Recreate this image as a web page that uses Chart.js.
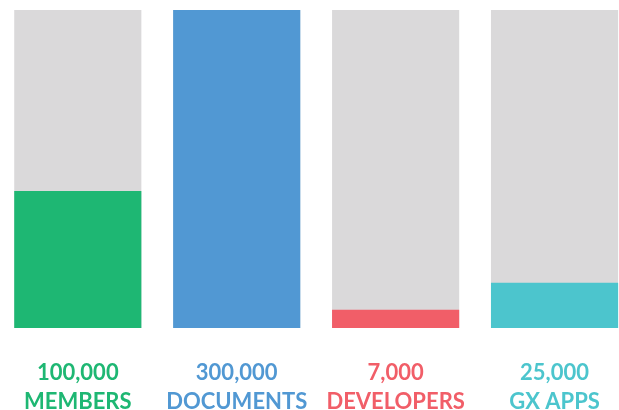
<!DOCTYPE html>
<html>
<head>
<meta charset="utf-8">
<script src="https://cdn.jsdelivr.net/npm/chart.js@4"></script>
<style>
  html, body { margin: 0; padding: 0; background: #fff; overflow: hidden; }
  #wrap { position: absolute; left: -6px; top: 0; width: 640px; height: 410px; }
</style>
</head>
<body>
<div id="wrap"><canvas id="c"></canvas></div>
<script>
const categories = ['MEMBERS', 'DOCUMENTS', 'DEVELOPERS', 'GX APPS'];
const countLabels = ['100,000', '300,000', '7,000', '25,000'];
const fillPercent = [43.1, 100, 5.7, 14.2];
const trackPercent = [100, 100, 100, 100];
const barColors = ['#1EB773', '#5198D3', '#F15E68', '#4CC5CD'];
const trackColor = '#DAD9DA';

new Chart(document.getElementById('c'), {
  type: 'bar',
  data: {
    labels: categories.map((c, i) => [countLabels[i], c]),
    datasets: [
      {
        data: fillPercent,
        backgroundColor: barColors,
        grouped: false,
        order: 1,
        barPercentage: 1,
        categoryPercentage: 0.8
      },
      {
        data: trackPercent,
        backgroundColor: trackColor,
        grouped: false,
        order: 2,
        barPercentage: 1,
        categoryPercentage: 0.8
      }
    ]
  },
  options: {
    responsive: true,
    maintainAspectRatio: false,
    animation: false,
    layout: { padding: { top: 10, left: 0, right: 0, bottom: 0 } },
    plugins: { legend: { display: false }, tooltip: { enabled: false } },
    scales: {
      y: { display: false, min: 0, max: 100 },
      x: {
        grid: { display: false, drawTicks: false },
        border: { display: false },
        afterFit: (s) => { s.height = 82; },
        ticks: {
          padding: 30,
          maxRotation: 0,
          autoSkip: false,
          font: { family: 'Lato', weight: 'bold', size: 22, lineHeight: 1.32 },
          color: (ctx) => barColors[ctx.index]
        }
      }
    }
  }
});
</script>
</body>
</html>
